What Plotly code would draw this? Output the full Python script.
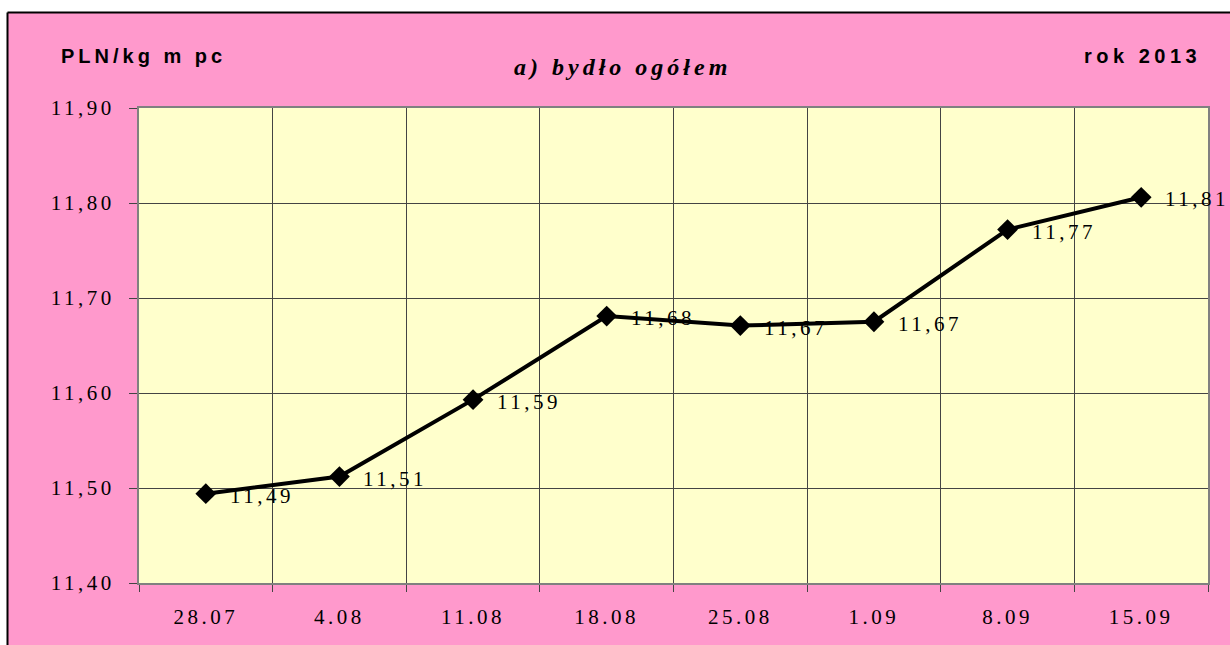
import plotly.graph_objects as go

categories = ["28.07", "4.08", "11.08", "18.08", "25.08", "1.09", "8.09", "15.09"]
values = [11.494, 11.512, 11.593, 11.681, 11.671, 11.675, 11.772, 11.806]
value_labels = ["11,49", "11,51", "11,59", "11,68", "11,67", "11,67", "11,77", "11,81"]
y_ticks = [11.40, 11.50, 11.60, 11.70, 11.80, 11.90]
y_tick_labels = ["11,40", "11,50", "11,60", "11,70", "11,80", "11,90"]

W, H = 1230, 645
L, R, T, B = 139, 22, 108, 62
pw, ph = W - L - R, H - T - B


def px(x):
    return (x - L) / pw


def py(y):
    return (H - B - y) / ph


def sp(s, ls):
    return '<span style="letter-spacing:%spx">%s</span>' % (ls, s)


fig = go.Figure()
fig.add_trace(go.Scatter(
    x=categories, y=values, mode="lines+markers",
    line=dict(color="black", width=4),
    marker=dict(symbol="diamond", size=16, color="black"),
    cliponaxis=False, showlegend=False, hoverinfo="skip",
))

ann = []
for i, (v, t) in enumerate(zip(values, value_labels)):
    ann.append(dict(x=i, y=v, xref="x", yref="y", text=sp(t, 3.5),
                    xanchor="left", yanchor="middle", xshift=22, yshift=-2,
                    showarrow=False,
                    font=dict(family="Liberation Serif", size=21, color="black")))

axis_font = dict(family="Liberation Serif", size=21, color="black")
fig.update_layout(
    width=W, height=H,
    margin=dict(l=L, r=R, t=T, b=B),
    paper_bgcolor="#FF99CC",
    plot_bgcolor="#FFFFCC",
    xaxis=dict(type="category", tickson="boundaries", showgrid=True,
               tickmode="array", tickvals=categories,
               ticktext=[sp(c, 3.5) for c in categories],
               gridcolor="#444444", gridwidth=1,
               showline=True, linecolor="#808080", linewidth=2, mirror=True,
               ticks="outside", ticklen=7, tickcolor="#444444",
               ticklabelstandoff=14,
               tickfont=axis_font, range=[-0.5, 7.5], zeroline=False),
    yaxis=dict(range=[11.40, 11.90], tickvals=y_ticks,
               ticktext=[sp(t, 3.5) for t in y_tick_labels],
               showgrid=True, gridcolor="#444444", gridwidth=1,
               showline=True, linecolor="#808080", linewidth=2, mirror=True,
               ticks="outside", ticklen=8, tickcolor="#444444",
               ticklabelstandoff=10,
               tickfont=axis_font, zeroline=False),
    shapes=[
        dict(type="rect", xref="paper", yref="paper", x0=px(-50), x1=px(7.5),
             y0=py(700), y1=py(-50), fillcolor="white", line=dict(width=0), layer="below"),
        dict(type="rect", xref="paper", yref="paper", x0=px(-50), x1=px(1300),
             y0=py(12.5), y1=py(-50), fillcolor="white", line=dict(width=0), layer="below"),
        dict(type="line", xref="paper", yref="paper", x0=px(7.5), x1=px(7.5),
             y0=py(700), y1=py(12.5), line=dict(color="black", width=2)),
        dict(type="line", xref="paper", yref="paper", x0=px(7.5), x1=px(1300),
             y0=py(12.5), y1=py(12.5), line=dict(color="black", width=2)),
    ],
    annotations=ann + [
        dict(text="<b>" + sp("PLN/kg m pc", 4) + "</b>", xref="paper", yref="paper",
             x=px(59), y=py(56), xanchor="left", yanchor="middle", showarrow=False,
             font=dict(family="Liberation Sans", size=20, color="black")),
        dict(text="<b>" + sp("rok 2013", 4.5) + "</b>", xref="paper", yref="paper",
             x=px(1203), y=py(56), xanchor="right", yanchor="middle", showarrow=False,
             font=dict(family="Liberation Sans", size=20, color="black")),
        dict(text="<b><i>" + sp("a) bydło ogółem", 4) + "</i></b>", xref="paper", yref="paper",
             x=px(622), y=py(67), xanchor="center", yanchor="middle", showarrow=False,
             font=dict(family="Liberation Serif", size=24, color="black")),
    ],
)

fig.write_html(
    "out.html",
    config={"displayModeBar": False},
    post_script="document.body.style.margin='0';document.body.style.overflow='hidden';",
)
